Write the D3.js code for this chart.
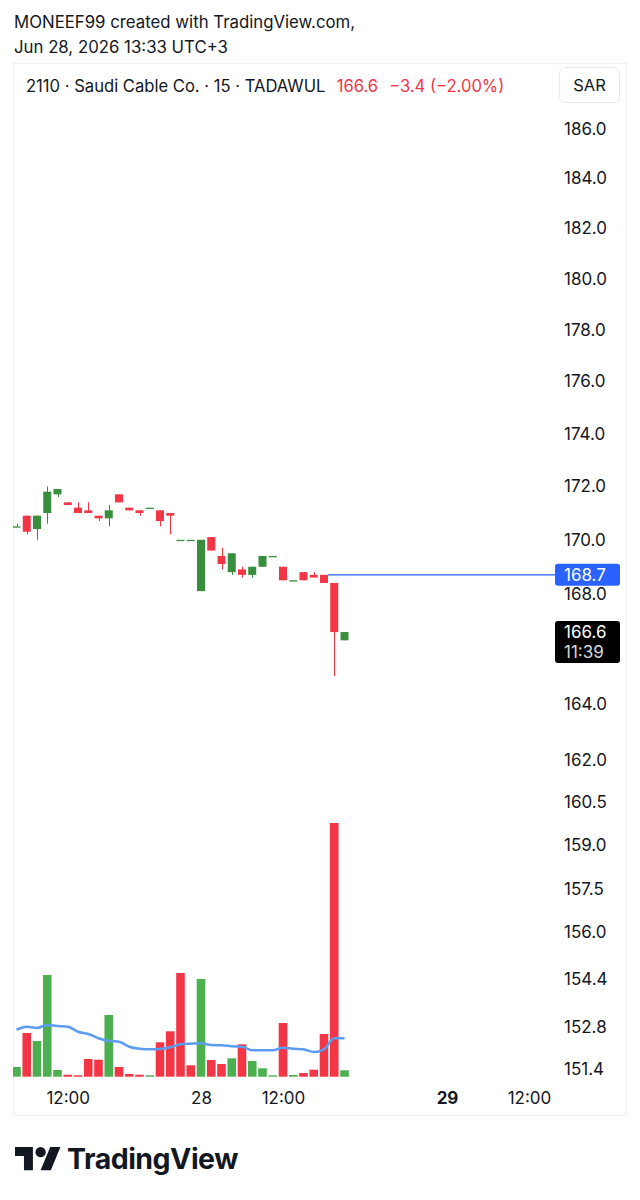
<!DOCTYPE html>
<meta charset="utf-8">
<script src="https://d3js.org/d3.v7.min.js"></script>
<style>
  body { margin: 0; background: #fff; }
  text { font-family: Inter, "Noto Sans", sans-serif; }
</style>
<div id="chart"></div>
<script>
// 15 min candles, Saudi Cable Co. (2110)
var opens  = [170.5,170.9,170.4,171.0,171.7,171.4,171.2,171.1,170.9,170.8,171.7,171.2,171.1,171.2,171.1,171.0,170.0,170.0,168.1,170.1,169.4,168.8,168.9,168.7,169.0,169.4,169.0,168.5,168.8,168.7,168.7,168.4,166.3];
var highs  = [170.6,170.9,170.9,172.0,171.9,171.4,171.4,171.4,170.9,171.3,171.7,171.2,171.1,171.2,171.1,171.0,170.0,170.0,170.0,170.1,169.7,169.5,169.0,169.0,169.4,169.4,169.0,168.5,168.8,168.8,168.7,168.4,166.6];
var lows   = [170.5,170.2,170.0,170.6,171.6,171.3,171.0,171.0,170.7,170.5,171.4,171.1,170.9,171.2,170.5,170.2,170.0,170.0,168.1,169.6,168.9,168.7,168.6,168.6,169.0,169.4,168.5,168.5,168.5,168.6,168.4,165.0,166.3];
var closes = [170.5,170.3,170.9,171.8,171.9,171.3,171.0,171.0,170.8,171.1,171.4,171.1,171.0,171.2,170.7,170.9,170.0,170.0,170.0,169.6,169.1,169.5,168.7,169.0,169.4,169.4,168.5,168.5,168.5,168.6,168.4,166.6,166.6];
// volume (thousands) and its moving average
var volumes = [9.7,43.7,35.7,101.7,6.7,2,1.4,17.7,17,61.7,9.7,2.7,2,1.4,34.4,45.4,103.7,11.4,97.7,16.7,12.7,18.4,32.4,15.7,8.4,1.4,53.7,1.7,3.7,7,42.7,253.7,6.4];
var volDir  = "udu uuddddudddu ddddu ddudu uududdddu".replace(/ /g, "").split("");
var volMA   = [47,50,48.7,51.7,50.7,50,45,42.7,38.4,35.7,35,30,28,27.4,27.7,29.4,32.4,33,33.4,31.7,31.4,30.4,30,26.4,26.4,26.4,29,28,27.4,24.7,27.4,38.4,38.4];

var priceTicks = [186.0,184.0,182.0,180.0,178.0,176.0,174.0,172.0,170.0,168.0,164.0,162.0,160.5,159.0,157.5,156.0,154.4,152.8,151.4];
var timeTickIdx = [5, 18, 26, 42, 50];
var timeTickLabels = ["12:00", "28", "12:00", "29", "12:00"];

var lineLevel = 168.7;
var lastPrice = 166.6;
var countdown = "11:39";

var W = 640, H = 1200;
var green = "#388e3c", red = "#f23645", volGreen = "#4caf50", volRed = "#f23645";

var svg = d3.select("#chart").append("svg")
    .attr("width", W).attr("height", H);

// header
svg.append("text").attr("x", 14).attr("y", 28).attr("font-size", 16.8).attr("fill", "#131722")
    .text("MONEEF99 created with TradingView.com,");
svg.append("text").attr("x", 14).attr("y", 53).attr("font-size", 16.8).attr("fill", "#131722")
    .text("Jun 28, 2026 13:33 UTC+3");

// chart frame
var plot = {left: 13, right: 555, top: 63, bottom: 1080};
svg.append("rect").attr("x", 13.5).attr("y", 63.5).attr("width", 613).attr("height", 1052)
    .attr("fill", "none").attr("stroke", "#eef0f4");

// legend
var leg = svg.append("text").attr("x", 26).attr("y", 92).attr("font-size", 16.6).attr("fill", "#131722");
leg.append("tspan").text("2110 \u00b7 Saudi Cable Co. \u00b7 15 \u00b7 TADAWUL");
leg.append("tspan").attr("dx", 12).attr("fill", red).text("166.6");
leg.append("tspan").attr("dx", 11).attr("fill", red).text("\u22123.4 (\u22122.00%)");

svg.append("rect").attr("x", 559.5).attr("y", 67.5).attr("width", 60).attr("height", 35).attr("rx", 6)
    .attr("fill", "#fff").attr("stroke", "#e6e8ee");
svg.append("text").attr("x", 589.5).attr("y", 91).attr("text-anchor", "middle").attr("font-size", 16.5)
    .attr("fill", "#131722").text("SAR");

// scales
var x = d3.scaleLinear().domain([0, 32]).range([16.5, 16.5 + 32 * 10.25]);
var y = d3.scaleLog().domain([151.4, 186]).range([1069, 129]);
var yv = d3.scaleLinear().domain([0, d3.max(volumes)]).range([1076.7, 823]);

svg.append("clipPath").attr("id", "clip").append("rect")
    .attr("x", plot.left).attr("y", plot.top).attr("width", plot.right - plot.left).attr("height", plot.bottom - plot.top);
var g = svg.append("g").attr("clip-path", "url(#clip)");

// volume bars
g.selectAll(".vol").data(volumes).enter().append("rect")
    .attr("x", (d, i) => x(i) - 4.3)
    .attr("width", 8.6)
    .attr("y", d => yv(d))
    .attr("height", d => yv(0) - yv(d))
    .attr("fill", (d, i) => volDir[i] === "u" ? volGreen : volRed);

// volume MA
g.append("path").datum(volMA)
    .attr("fill", "none").attr("stroke", "#5b9cf0").attr("stroke-width", 2.5)
    .attr("d", d3.line().x((d, i) => x(i)).y(d => yv(d)).curve(d3.curveMonotoneX));

// candles
var candles = d3.range(opens.length);
var colorOf = i => closes[i] < opens[i] ? red : green;
g.selectAll(".wick").data(candles).enter().append("line")
    .attr("x1", i => Math.round(x(i)) + 0.5).attr("x2", i => Math.round(x(i)) + 0.5)
    .attr("y1", i => y(highs[i])).attr("y2", i => y(lows[i]))
    .attr("stroke", colorOf).attr("stroke-width", 1);
g.selectAll(".body").data(candles).enter().append("rect")
    .attr("x", i => x(i) - 4)
    .attr("width", 8)
    .attr("y", i => y(Math.max(opens[i], closes[i])))
    .attr("height", i => Math.max(1.3, y(Math.min(opens[i], closes[i])) - y(Math.max(opens[i], closes[i]))))
    .attr("fill", colorOf);

// horizontal line
svg.append("line").attr("x1", x(30) + 4).attr("x2", plot.right)
    .attr("y1", y(lineLevel)).attr("y2", y(lineLevel))
    .attr("stroke", "#2962ff").attr("stroke-width", 1.3);

// price axis
var yAxis = svg.append("g").attr("transform", "translate(556,0)")
    .call(d3.axisRight(y).tickValues(priceTicks).tickFormat(d3.format(".1f")).tickSize(0).tickPadding(8));
yAxis.select(".domain").remove();
yAxis.selectAll("text").attr("font-size", 17).attr("fill", "#131722").attr("font-family", "Inter, sans-serif");

// time axis
var xAxis = svg.append("g").attr("transform", "translate(0,1084)")
    .call(d3.axisBottom(x).tickValues(timeTickIdx).tickFormat((d, i) => timeTickLabels[i]).tickSize(0).tickPadding(8));
xAxis.select(".domain").remove();
xAxis.selectAll("text").attr("font-size", 17).attr("fill", "#131722").attr("font-family", "Inter, sans-serif")
    .attr("font-weight", (d, i) => timeTickLabels[i] === "29" ? "bold" : "normal");

// price labels
var ly = y(lineLevel);
svg.append("rect").attr("x", 555).attr("y", ly - 11).attr("width", 65).attr("height", 22).attr("rx", 3).attr("fill", "#2962ff");
svg.append("text").attr("x", 564).attr("y", ly + 6).attr("font-size", 17).attr("fill", "#fff").text(d3.format(".1f")(lineLevel));

var py = y(lastPrice);
svg.append("rect").attr("x", 555).attr("y", py - 11).attr("width", 65).attr("height", 42).attr("rx", 3).attr("fill", "#000");
svg.append("text").attr("x", 564).attr("y", py + 6).attr("font-size", 17).attr("fill", "#fff").text(d3.format(".1f")(lastPrice));
svg.append("text").attr("x", 564).attr("y", py + 26).attr("font-size", 17).attr("fill", "#d8d8d8").text(countdown);

// TradingView logo
var logo = svg.append("g").attr("transform", "translate(15,1142) scale(1.28)");
logo.append("path").attr("d", "M14 22H7V11H0V4h14v18zM28 22h-8l7.5-18h8L28 22z").attr("fill", "#131722");
logo.append("circle").attr("cx", 20).attr("cy", 8).attr("r", 4).attr("fill", "#131722");
svg.append("text").attr("x", 67).attr("y", 1169).attr("font-size", 28.5).attr("font-weight", "bold")
    .attr("fill", "#131722").attr("letter-spacing", -0.5).text("TradingView");
</script>
